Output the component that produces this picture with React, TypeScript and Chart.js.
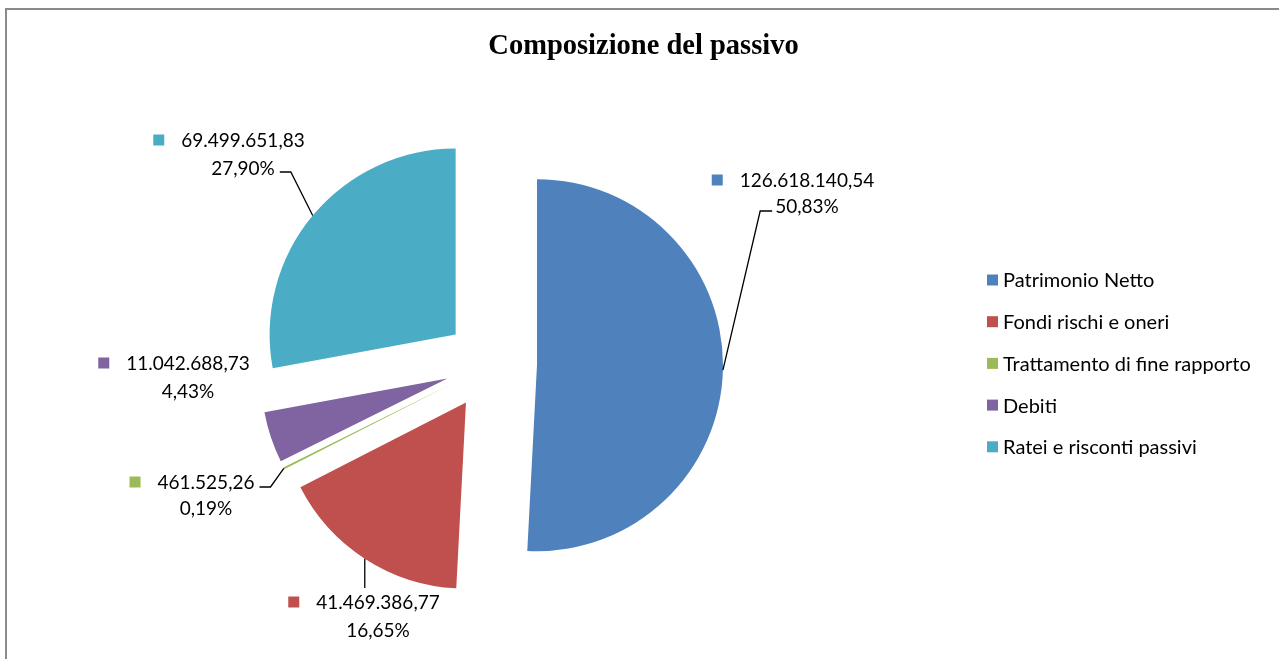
import React, { useEffect, useRef } from "react";
import { Chart, registerables } from "chart.js";

Chart.register(...registerables);

// ---- data ----
const title = "Composizione del passivo";
const categories = [
  "Patrimonio Netto",
  "Fondi rischi e oneri",
  "Trattamento di fine rapporto",
  "Debiti",
  "Ratei e risconti passivi",
];
const values = [126618140.54, 41469386.77, 461525.26, 11042688.73, 69499651.83];
const colors = ["#4F81BD", "#C0504D", "#9BBB59", "#8064A2", "#4BACC6"];

// ---- layout (not data) ----
const PIE_RADIUS = 186;
const EXPLODE = 46;
const LABEL_FONT = "19px Lato";
const LEGEND_FONT = "20px Lato";
const TITLE_FONT = "bold 28.5px 'Liberation Serif'";
// label block centre relative to pie centre, and leader style
const labelLayout = [
  { dx: 316, dy: -184, gap: 26, leader: "left2" },
  { dx: -113, dy: 238, gap: 28, leader: "up" },
  { dx: -285, dy: 118, gap: 26, leader: "right1" },
  { dx: -303, dy: -1, gap: 28, leader: "none" },
  { dx: -248, dy: -224, gap: 28, leader: "right2" },
];

function fmtNumber(v: number): string {
  const [int, dec] = v.toFixed(2).split(".");
  const withDots = int.replace(/\B(?=(\d{3})+(?!\d))/g, ".");
  return withDots + "," + dec;
}
function fmtPct(v: number, total: number): string {
  return ((v / total) * 100).toFixed(2).replace(".", ",") + "%";
}

const explodePlugin = {
  id: "explodePie",
  beforeDatasetDraw(chart: any, args: any) {
    const ctx = chart.ctx;
    const meta = args.meta;
    meta.data.forEach((arc: any) => {
      const mid = (arc.startAngle + arc.endAngle) / 2;
      ctx.save();
      ctx.translate(Math.cos(mid) * EXPLODE, Math.sin(mid) * EXPLODE);
      arc.draw(ctx, chart.chartArea);
      ctx.restore();
    });
    return false;
  },
};

const decorPlugin = {
  id: "decor",
  afterDraw(chart: any) {
    const ctx = chart.ctx;
    const ds = chart.data.datasets[0];
    const data: number[] = ds.data;
    const total = data.reduce((a, b) => a + b, 0);
    const meta = chart.getDatasetMeta(0);

    // Title
    ctx.save();
    ctx.font = TITLE_FONT;
    ctx.fillStyle = "#000";
    ctx.textAlign = "center";
    ctx.textBaseline = "middle";
    ctx.fillText(title, 643.5, 47);
    ctx.restore();

    // Data labels
    meta.data.forEach((arc: any, i: number) => {
      const lay = labelLayout[i];
      const cx = arc.x;
      const cy = arc.y;
      const mid = (arc.startAngle + arc.endAngle) / 2;
      const r = arc.outerRadius + EXPLODE;
      const ax = cx + Math.cos(mid) * r;
      const ay = cy + Math.sin(mid) * r;
      const tx = cx + lay.dx;
      const y1 = cy + lay.dy;
      const y2 = y1 + lay.gap;
      const line1 = fmtNumber(data[i]);
      const line2 = fmtPct(data[i], total);
      ctx.save();
      ctx.font = LABEL_FONT;
      ctx.textBaseline = "middle";
      ctx.textAlign = "center";
      ctx.fillStyle = "#000";
      ctx.fillText(line1, tx, y1 + 1);
      ctx.fillText(line2, tx, y2 + 1);
      const w1 = ctx.measureText(line1).width;
      const w2 = ctx.measureText(line2).width;
      // legend key square
      ctx.fillStyle = ds.backgroundColor[i];
      ctx.fillRect(tx - w1 / 2 - 17 - 11, y1 - 5.5, 11, 11);
      // leader line
      if (lay.leader !== "none") {
        ctx.strokeStyle = "#000";
        ctx.lineWidth = 1.3;
        ctx.beginPath();
        ctx.moveTo(ax, ay);
        if (lay.leader === "left2") {
          const ex = tx - w2 / 2 - 3;
          const ey = y2 + 5;
          ctx.lineTo(ex - 12, ey);
          ctx.lineTo(ex, ey);
        } else if (lay.leader === "right2") {
          const ex = tx + w2 / 2 + 5;
          const ey = y2 + 4;
          ctx.lineTo(ex + 11, ey);
          ctx.lineTo(ex, ey);
        } else if (lay.leader === "right1") {
          const ex = tx + w1 / 2 + 5;
          const ey = y1 + 5;
          ctx.lineTo(ex + 11, ey);
          ctx.lineTo(ex, ey);
        } else if (lay.leader === "up") {
          ctx.lineTo(ax, y1 - 14);
        }
        ctx.stroke();
      }
      ctx.restore();
    });

    // Legend
    ctx.save();
    ctx.font = LEGEND_FONT;
    ctx.textBaseline = "middle";
    ctx.textAlign = "left";
    chart.data.labels.forEach((lab: string, i: number) => {
      const y = 280 + i * 41.7;
      ctx.fillStyle = ds.backgroundColor[i];
      ctx.fillRect(987, y - 5.5, 11, 11);
      ctx.fillStyle = "#000";
      ctx.fillText(lab, 1003, y + 1);
    });
    ctx.restore();
  },
};

export default function App() {
  const ref = useRef<HTMLCanvasElement | null>(null);
  useEffect(() => {
    if (!ref.current) return;
    const chart = new Chart(ref.current, {
      type: "pie",
      data: {
        labels: categories,
        datasets: [
          {
            data: values,
            backgroundColor: colors,
            borderWidth: 0,
          },
        ],
      },
      options: {
        responsive: false,
        animation: false,
        devicePixelRatio: 1,
        radius: PIE_RADIUS,
        layout: { padding: { left: 0, right: 297, top: 100, bottom: 31 } },
        plugins: {
          legend: { display: false },
          title: { display: false },
          tooltip: { enabled: false },
        },
        events: [],
      } as any,
      plugins: [explodePlugin, decorPlugin],
    });
    return () => chart.destroy();
  }, []);
  return (
    <>
      <div
        style={{
          position: "fixed",
          left: 5,
          top: 8,
          right: 0,
          bottom: 0,
          borderLeft: "2px solid #8a8a8a",
          borderTop: "2px solid #8a8a8a",
        }}
      />
      <canvas
        ref={ref}
        width={1279}
        height={659}
        style={{ position: "fixed", left: 0, top: 0, width: 1279, height: 659 }}
      />
    </>
  );
}
